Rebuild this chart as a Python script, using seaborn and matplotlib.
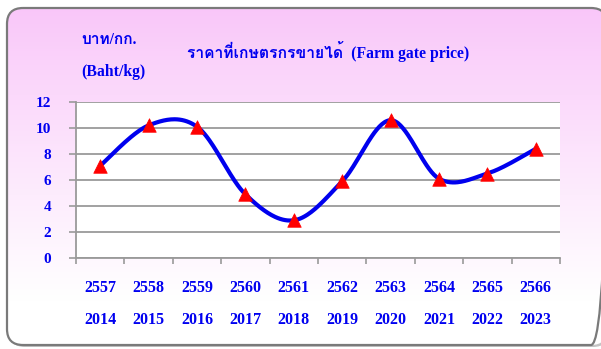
import numpy as np
import pandas as pd
import seaborn as sns
import matplotlib
matplotlib.use("Agg")
import matplotlib.pyplot as plt
from matplotlib import font_manager
from matplotlib.patches import FancyBboxPatch

# ---- data -------------------------------------------------------------
years_be = ["2557", "2558", "2559", "2560", "2561", "2562", "2563", "2564", "2565", "2566"]
years_ce = ["2014", "2015", "2016", "2017", "2018", "2019", "2020", "2021", "2022", "2023"]
price = [7.1, 10.2, 10.1, 4.9, 2.9, 5.9, 10.6, 6.1, 6.5, 8.4]
y_ticks = [0, 2, 4, 6, 8, 10, 12]

title_text = "ราคาที่เกษตรกรขายได้  (Farm gate price)"
unit_th = "บาท/กก."
unit_en = "(Baht/kg)"

BLUE = "#0000F0"
GRID = "#9a9a9a"


def find_thai_family():
    """Return the name of an installed font that has Thai glyphs, if any."""
    try:
        from fontTools.ttLib import TTFont
    except ImportError:
        return None
    for fe in font_manager.fontManager.ttflist:
        try:
            f = TTFont(fe.fname, fontNumber=0, lazy=True)
            cmap = f.getBestCmap()
            if cmap and 0x0E23 in cmap and 0x0E32 in cmap:
                return fe.name
        except Exception:
            continue
    return None


sns.set_theme(style="white")
thai = find_thai_family()
families = ["Liberation Serif"] + ([thai] if thai else []) + ["DejaVu Sans"]
plt.rcParams["font.family"] = families


def smooth_curve(xs, ys, n=40):
    """Cubic Bezier smoothing through every point (Catmull-Rom style)."""
    P = np.column_stack([xs, ys]).astype(float)
    ext = np.vstack([P[0], P, P[-1]])
    out = []
    t = np.linspace(0, 1, n)[:, None]
    for i in range(len(P) - 1):
        p0, p1, p2, p3 = ext[i], ext[i + 1], ext[i + 2], ext[i + 3]
        c1 = p1 + (p2 - p0) / 6.0
        c2 = p2 - (p3 - p1) / 6.0
        seg = ((1 - t) ** 3) * p1 + 3 * ((1 - t) ** 2) * t * c1 + 3 * (1 - t) * t ** 2 * c2 + t ** 3 * p2
        out.append(seg if i == 0 else seg[1:])
    pts = np.vstack(out)
    return pts[:, 0], pts[:, 1]


W, H = 601, 349
fig = plt.figure(figsize=(W / 100, H / 100), dpi=100)
fig.patch.set_facecolor("white")

# ---- rounded gradient panel behind the chart ---------------------------
bg = fig.add_axes([0, 0, 1, 1], zorder=0)
bg.set_xlim(0, W)
bg.set_ylim(H, 0)
bg.axis("off")

box = dict(boxstyle="round,pad=0,rounding_size=16")
shadow = FancyBboxPatch((9, 10), 600, 337, facecolor="#c4c4c4", edgecolor="none",
                        zorder=0.5, **box)
bg.add_patch(shadow)

rows = np.linspace(0, 1, 256)[:, None]
frac = np.clip(rows * 1.15, 0, 1) ** 0.9
top = np.array([249, 198, 249]) / 255.0
bot = np.array([255, 255, 255]) / 255.0
grad = top[None, None, :] * (1 - frac[:, :, None]) + bot[None, None, :] * frac[:, :, None]
grad = np.repeat(grad, 4, axis=1)
im = bg.imshow(grad, extent=(7, 607, 345, 8), aspect="auto", interpolation="bilinear",
               zorder=1)
clip = FancyBboxPatch((7, 8), 600, 337, transform=bg.transData, facecolor="none",
                      edgecolor="none", **box)
bg.add_patch(clip)
im.set_clip_path(clip)

panel = FancyBboxPatch((7, 8), 600, 337, facecolor="none", edgecolor="#7a7a7a",
                       linewidth=1.6, zorder=2, **box)
bg.add_patch(panel)

# ---- plot area ---------------------------------------------------------
ax = fig.add_axes([76 / W, (H - 258) / H, 484 / W, 156 / H], zorder=2)
ax.set_facecolor("white")

x_pos = np.arange(len(price))
cx, cy = smooth_curve(x_pos, price)
curve = pd.DataFrame({"x": cx, "y": cy})
points = pd.DataFrame({"x": x_pos, "price": price})

sns.lineplot(data=curve, x="x", y="y", ax=ax, sort=False, estimator=None,
             color="#0000EE", linewidth=3.0, zorder=3)
sns.scatterplot(data=points, x="x", y="price", ax=ax, marker="^", s=95,
                color="#FF0000", edgecolor="#FF0000", linewidth=0.5, zorder=4)

ax.set_xlim(-0.5, len(price) - 0.5)
ax.set_ylim(0, 12)
ax.set_xlabel("")
ax.set_ylabel("")

ax.set_yticks(y_ticks)
ax.set_yticklabels([str(v) for v in y_ticks])
ax.yaxis.grid(True, color=GRID, linewidth=1.3)
ax.xaxis.grid(False)

ax.set_xticks(np.arange(-0.5, len(price), 1.0))
ax.set_xticklabels([])
ax.set_xticks(x_pos, [f"{b}\n{c}" for b, c in zip(years_be, years_ce)], minor=True)

ax.tick_params(axis="y", which="major", length=5, width=1.2, color=GRID, pad=13,
               labelsize=11, labelcolor=BLUE, left=True)
ax.tick_params(axis="x", which="major", length=4.5, width=1.2, color=GRID, bottom=True)
ax.tick_params(axis="x", which="minor", length=0, pad=16, labelsize=11.5, labelcolor=BLUE)
for lab in ax.get_yticklabels():
    lab.set_fontweight("bold")
for lab in ax.get_xticklabels(minor=True):
    lab.set_fontweight("bold")
    lab.set_linespacing(2.3)

for side in ["top", "right"]:
    ax.spines[side].set_visible(False)
for side in ["left", "bottom"]:
    ax.spines[side].set_visible(True)
    ax.spines[side].set_color(GRID)
    ax.spines[side].set_linewidth(1.3)

# ---- titles ------------------------------------------------------------
fig.text(328 / W, 1 - 52 / H, title_text, ha="center", va="center",
         fontsize=11.3, fontweight="bold", color=BLUE)
fig.text(81 / W, 1 - 40 / H, unit_th, ha="left", va="center",
         fontsize=11.2, fontweight="bold", color=BLUE)
fig.text(81 / W, 1 - 72 / H, unit_en, ha="left", va="center",
         fontsize=11.3, fontweight="bold", color=BLUE)

fig.savefig("out.png", dpi=100)
